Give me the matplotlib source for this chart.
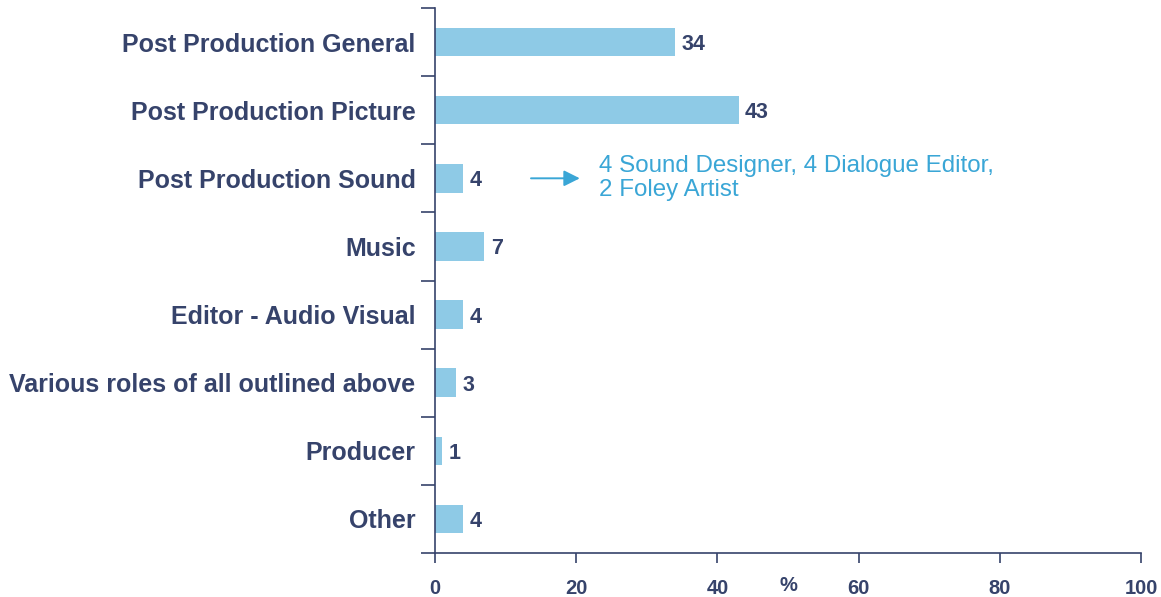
import matplotlib.pyplot as plt
import numpy as np

plt.rcParams['font.family'] = ['Liberation Sans', 'DejaVu Sans']

roles = [
    'Post Production General',
    'Post Production Picture',
    'Post Production Sound',
    'Music',
    'Editor - Audio Visual',
    'Various roles of all outlined above',
    'Producer',
    'Other',
]
shares = [34, 43, 4, 7, 4, 3, 1, 4]
x_ticks = [0, 20, 40, 60, 80, 100]
sound_note = '4 Sound Designer, 4 Dialogue Editor,\n2 Foley Artist'

navy = '#36436b'
bar_blue = '#8ecae6'
note_blue = '#3aa6d6'

fig = plt.figure(figsize=(11.61, 5.97), dpi=100)
ax = fig.add_axes([0.3747, 0.0737, 0.6081, 0.9129])

pos = np.arange(len(roles))
ax.barh(pos, shares, height=0.42, color=bar_blue, zorder=2)

for p, v in zip(pos, shares):
    ax.text(v + 0.9, p, str(v), va='center_baseline', ha='left',
            fontsize=15.5, fontweight='bold', color=navy)

ax.set_xlim(0, 100)
ax.set_ylim(len(roles) - 0.5, -0.5)

# category labels centred on the bars, tick marks on the boundaries
ax.set_yticks(pos)
ax.set_yticklabels(roles, fontsize=18, fontweight='bold', color=navy)
ax.tick_params(axis='y', which='major', length=0, pad=14)
ax.set_yticks(np.arange(len(roles) + 1) - 0.5, minor=True)
ax.tick_params(axis='y', which='minor', length=10, width=1.2, color=navy)

ax.set_xticks(x_ticks)
ax.set_xticklabels([str(t) for t in x_ticks], fontsize=14.5,
                   fontweight='bold', color=navy)
ax.tick_params(axis='x', length=7, width=1.2, color=navy, pad=12)
ax.text(50, -0.059, '%', transform=ax.get_xaxis_transform(),
        ha='center', va='center', fontsize=14.5, fontweight='bold', color=navy)

for side in ['top', 'right']:
    ax.spines[side].set_visible(False)
for side in ['left', 'bottom']:
    ax.spines[side].set_color(navy)
    ax.spines[side].set_linewidth(1.2)

ax.annotate('', xy=(20.9, 2), xytext=(13.2, 2),
            arrowprops=dict(arrowstyle='-|>', color=note_blue, lw=1.4,
                            mutation_scale=24))
ax.text(23.2, 2, sound_note, va='center', ha='left', fontsize=17.4,
        color=note_blue, linespacing=1.1)

fig.savefig('out.png', dpi=100)
